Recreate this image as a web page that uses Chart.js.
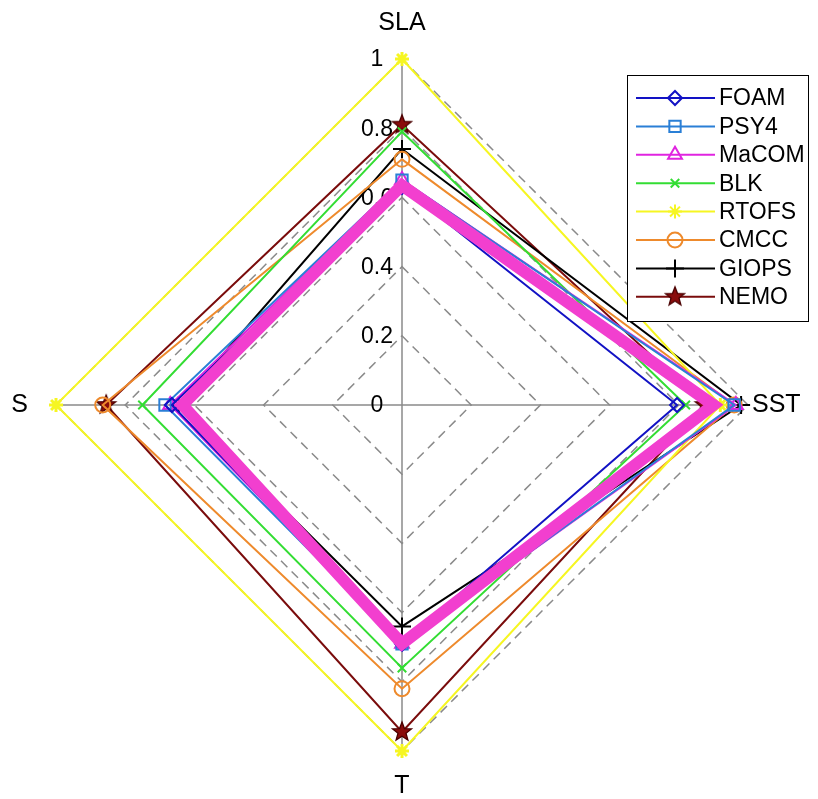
<!DOCTYPE html>
<html>
<head>
<meta charset="utf-8">
<script src="https://cdn.jsdelivr.net/npm/chart.js@4.4.1/dist/chart.umd.min.js"></script>
<style>
html,body{margin:0;padding:0;background:#fff;}
#wrap{width:818px;height:799px;position:relative;background:#fff;}
canvas{display:block;}
</style>
</head>
<body>
<div id="wrap"><canvas id="c" width="818" height="799"></canvas></div>
<script>
// ---- data ----
const categories = ['SLA', 'SST', 'T', 'S'];
const tickValues = [0, 0.2, 0.4, 0.6, 0.8, 1];
const tickLabels = ['0', '0.2', '0.4', '0.6', '0.8', '1'];
const seriesNames = ['FOAM', 'PSY4', 'MaCOM', 'BLK', 'RTOFS', 'CMCC', 'GIOPS', 'NEMO'];
const FOAM  = [0.63, 0.795, 0.69, 0.665];
const PSY4  = [0.65, 0.96, 0.69, 0.685];
const MaCOM = [0.65, 0.965, 0.69, 0.67];
const BLK   = [0.79, 0.82, 0.76, 0.75];
const RTOFS = [1.0, 0.92, 1.0, 1.0];
const CMCC  = [0.71, 0.96, 0.82, 0.865];
const GIOPS = [0.74, 0.98, 0.64, 0.645];
const NEMO  = [0.81, 0.875, 0.945, 0.855];
const highlight = [0.635, 0.90, 0.69, 0.635];

const FONT = '"Liberation Sans", Arial, Helvetica, sans-serif';

function makePentagram(r, fill, stroke) {
  const c = document.createElement('canvas');
  const s = Math.ceil(r * 2 + 4);
  c.width = s; c.height = s;
  const g = c.getContext('2d');
  g.beginPath();
  for (let k = 0; k < 10; k++) {
    const rad = k % 2 === 0 ? r : r * 0.42;
    const a = -Math.PI / 2 + k * Math.PI / 5;
    g.lineTo(s / 2 + rad * Math.cos(a), s / 2 + rad * Math.sin(a));
  }
  g.closePath();
  g.fillStyle = fill; g.fill();
  g.strokeStyle = stroke; g.lineWidth = 1.3; g.stroke();
  return c;
}
const starImg = makePentagram(10, '#8a0c0c', '#4a0000');

const styles = {
  FOAM:  {color: '#1212c4', style: 'rectRot', radius: 7, bg: 'rgba(0,0,0,0)'},
  PSY4:  {color: '#2a7fd6', style: 'rect', radius: 8, bg: 'rgba(0,0,0,0)'},
  MaCOM: {color: '#e024e0', style: 'triangle', radius: 8, bg: 'rgba(0,0,0,0)'},
  BLK:   {color: '#33dd33', style: 'crossRot', radius: 6, bg: 'rgba(0,0,0,0)'},
  RTOFS: {color: '#f6f622', style: 'star', radius: 7, bg: '#f6f622'},
  CMCC:  {color: '#ee8a2c', style: 'circle', radius: 7.5, bg: 'rgba(0,0,0,0)'},
  GIOPS: {color: '#000000', style: 'cross', radius: 9, bg: 'rgba(0,0,0,0)'},
  NEMO:  {color: '#7a0c0c', style: starImg, radius: 10, bg: '#8a0c0c'}
};
const seriesData = {FOAM, PSY4, MaCOM, BLK, RTOFS, CMCC, GIOPS, NEMO};

const datasets = seriesNames.map(n => {
  const st = styles[n];
  return {
    label: n,
    data: seriesData[n],
    borderColor: st.color,
    backgroundColor: 'rgba(0,0,0,0)',
    fill: false,
    borderWidth: 2,
    pointStyle: st.style,
    pointRadius: st.radius,
    pointHoverRadius: st.radius,
    pointBorderColor: st.color,
    pointBackgroundColor: st.bg,
    pointBorderWidth: n === 'RTOFS' ? 3 : 2
  };
});
datasets.push({
  label: '',
  data: highlight,
  borderColor: '#f23fcf',
  backgroundColor: 'rgba(0,0,0,0)',
  fill: false,
  borderWidth: 12,
  borderJoinStyle: 'miter',
  pointRadius: 0,
  pointHoverRadius: 0,
  order: -1
});

const labelPads = [23, 4, 23, 28];

const tickPlugin = {
  id: 'tickText',
  beforeDatasetsDraw(chart) {
    const s = chart.scales.r;
    const ctx = chart.ctx;
    ctx.save();
    ctx.font = '23px ' + FONT;
    ctx.fillStyle = '#000';
    ctx.textAlign = 'center';
    ctx.textBaseline = 'middle';
    tickValues.forEach((v, i) => {
      const d = s.getDistanceFromCenterForValue(v);
      ctx.fillText(tickLabels[i], s.xCenter - 25, s.yCenter - d + 1);
    });
    ctx.restore();
  }
};

function drawMarker(ctx, st, x, y) {
  if (Chart.helpers && Chart.helpers.drawPoint) {
    ctx.strokeStyle = st.color;
    ctx.fillStyle = st.bg;
    ctx.lineWidth = 2;
    Chart.helpers.drawPoint(ctx, {pointStyle: st.style, radius: st.radius, borderWidth: 2, rotation: 0}, x, y);
  }
}

const legendPlugin = {
  id: 'customLegend',
  afterDraw(chart) {
    const ctx = chart.ctx;
    const bx = 627.5, by = 75.5, bw = 181, bh = 246;
    ctx.save();
    ctx.fillStyle = '#fff';
    ctx.fillRect(bx, by, bw, bh);
    ctx.strokeStyle = '#000';
    ctx.lineWidth = 1;
    ctx.strokeRect(bx, by, bw, bh);
    ctx.font = '23px ' + FONT;
    ctx.textAlign = 'left';
    ctx.textBaseline = 'middle';
    seriesNames.forEach((n, i) => {
      const st = styles[n];
      const y = 98 + i * 28.4;
      ctx.strokeStyle = st.color;
      ctx.lineWidth = 2;
      ctx.setLineDash([]);
      ctx.beginPath();
      ctx.moveTo(636, y);
      ctx.lineTo(715, y);
      ctx.stroke();
      drawMarker(ctx, st, 675, y);
      ctx.fillStyle = '#000';
      ctx.fillText(n, 719, y + 1);
    });
    ctx.restore();
  }
};

new Chart(document.getElementById('c'), {
  type: 'radar',
  data: { labels: categories, datasets },
  options: {
    responsive: false,
    animation: false,
    devicePixelRatio: 1,
    layout: { padding: { left: 1, right: 7, top: 11, bottom: 0 } },
    plugins: { legend: { display: false }, tooltip: { enabled: false } },
    elements: { line: { tension: 0 } },
    scales: {
      r: {
        min: 0,
        max: 1,
        beginAtZero: true,
        ticks: { display: false, stepSize: 0.2 },
        grid: { color: '#8a8a8a', lineWidth: 1.5, borderDash: [9, 6] },
        border: { dash: [9, 6] },
        angleLines: { color: '#8a8a8a', lineWidth: 1.5 },
        pointLabels: {
          color: '#000',
          font: { family: FONT, size: 25, lineHeight: 1.0 },
          padding: (c) => labelPads[c.index]
        }
      }
    }
  },
  plugins: [tickPlugin, legendPlugin]
});
</script>
</body>
</html>
